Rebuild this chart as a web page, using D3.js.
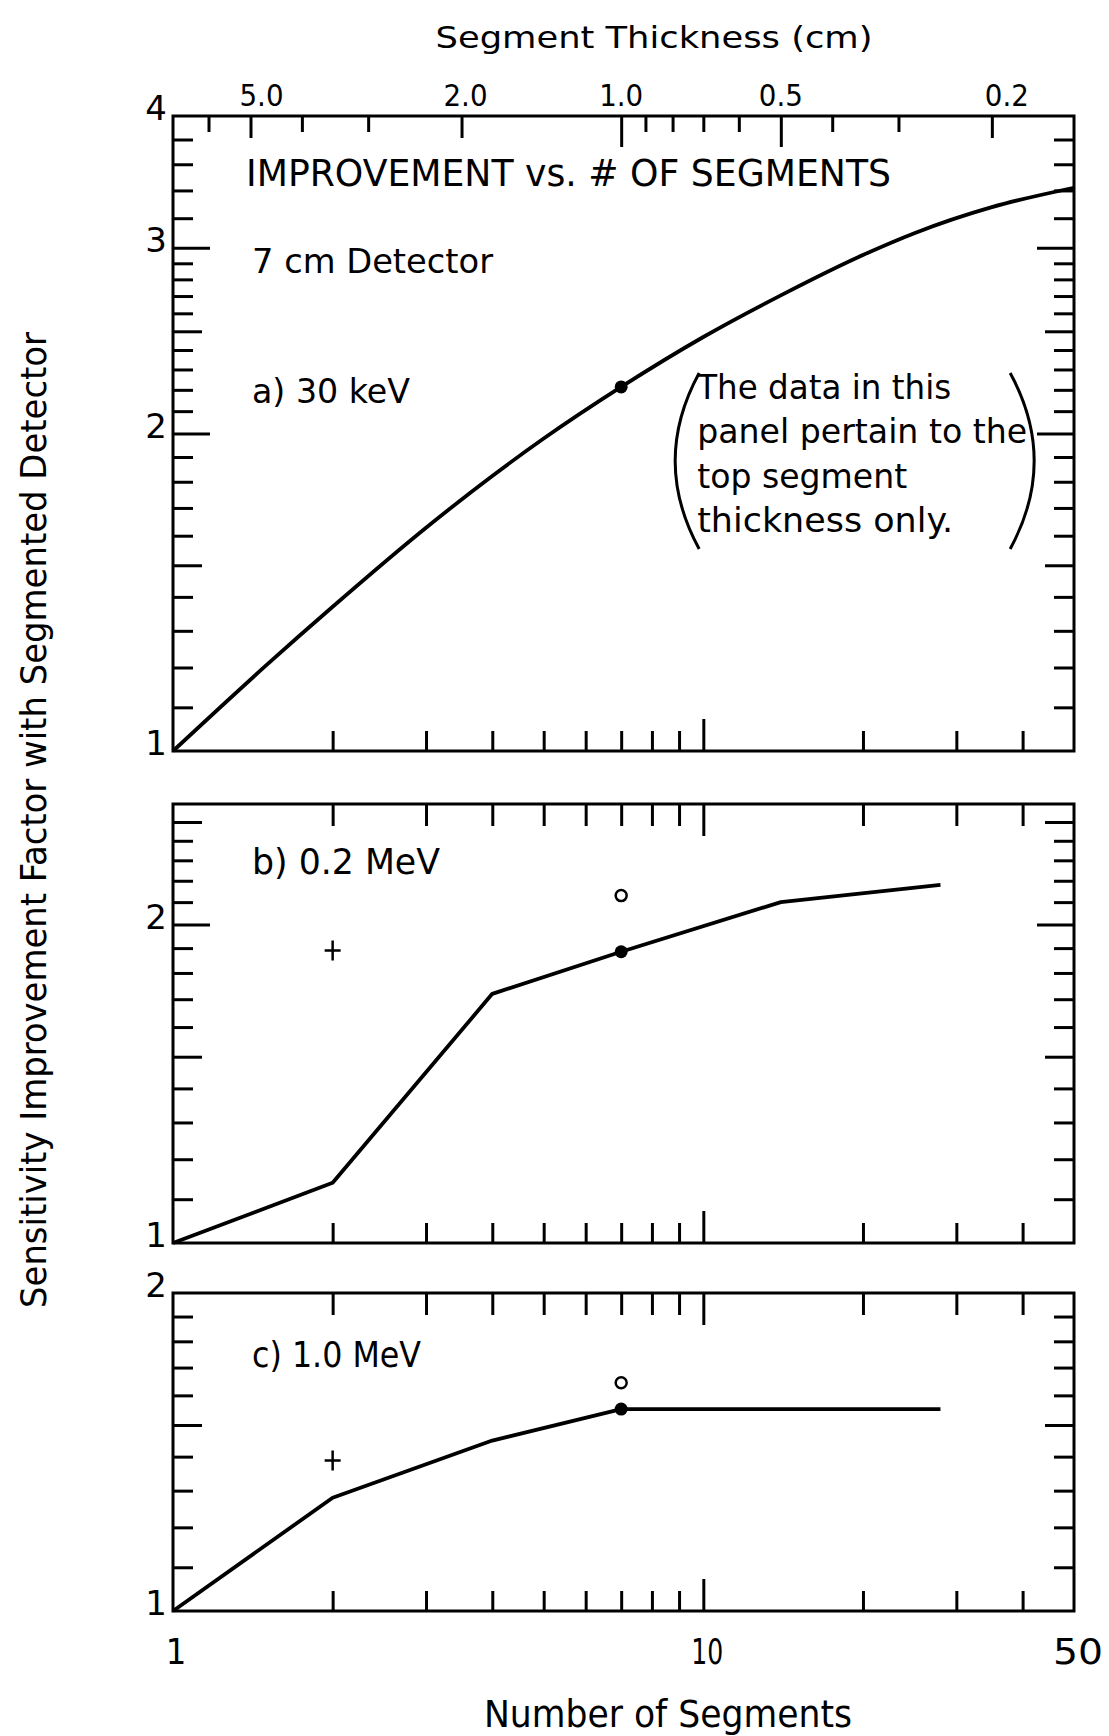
<!DOCTYPE html>
<html>
<head>
<meta charset="utf-8">
<script src="https://cdn.jsdelivr.net/npm/d3@7"></script>
<style>
  body { margin: 0; background: #fff; }
  svg { display: block; }
  .narrow { font-family: "DejaVu Sans Condensed", "Liberation Sans Narrow", "DejaVu Sans", sans-serif; font-stretch: condensed; }
  .round { font-family: "DejaVu Sans", "Liberation Sans", sans-serif; }
  .tick line { stroke: #000; stroke-width: 3; }
</style>
</head>
<body>
<svg id="chart" width="1109" height="1736"></svg>
<script>
// number of segments (bottom axis, shared)
var segDomain = [1, 50];
var segTicks = [2, 3, 4, 5, 6, 7, 8, 9, 20, 30, 40];
var segMajor = [10];
var segLabels = [1, 10, 50];

// segment thickness of a 7 cm detector (top axis of panel a)
var detectorCm = 7;
var thickMinor = [6.0, 4.0, 3.0, 0.9, 0.8, 0.7, 0.6, 0.4, 0.3];
var thickMid = [5.0, 2.0, 0.2];
var thickMajor = [1.0, 0.5];
var thickLabels = [5.0, 2.0, 1.0, 0.5, 0.2];

// a) 30 keV
var segA = [1, 1.5, 2, 3, 4, 5, 7, 10, 14, 20, 25, 35, 50];
var impA = [1.0, 1.206, 1.37, 1.628, 1.823, 1.978, 2.214, 2.469, 2.704, 2.953, 3.097, 3.278, 3.42];
// b) 0.2 MeV
var segB = [1, 2, 4, 7, 14, 28];
var impB = [1.0, 1.14, 1.72, 1.885, 2.10, 2.18];
// c) 1.0 MeV
var segC = [1, 2, 4, 7, 28];
var impC = [1.0, 1.28, 1.45, 1.553, 1.553];

// single points: filled dot at 7 segments, open circle at 7, cross at 2
var dotN = 7, circleN = 7, plusN = 2;
var dotVals = [2.214, 1.885, 1.553];
var circleVals = [null, 2.13, 1.645];
var plusVals = [null, 1.89, 1.388];

// y axis ticks per panel
var yDomA = [1, 4], yMinorA = [1.1, 1.2, 1.3, 1.4, 1.6, 1.7, 1.8, 1.9, 2.1, 2.2, 2.3, 2.4, 2.6, 2.7, 2.8, 2.9, 3.2, 3.4, 3.6, 3.8], yMidA = [1.5, 2.5], yMajA = [2, 3], yLabA = [1, 2, 3, 4];
var yDomB = [1, 2.6], yMinorB = [1.1, 1.2, 1.3, 1.4, 1.6, 1.7, 1.8, 1.9, 2.1, 2.2, 2.3, 2.4], yMidB = [1.5, 2.5], yMajB = [2], yLabB = [1, 2];
var yDomC = [1, 2], yMinorC = [1.1, 1.2, 1.3, 1.4, 1.6, 1.7, 1.8, 1.9], yMidC = [1.5], yMajC = [], yLabC = [1, 2];

var svg = d3.select("#chart");
var x0 = 173, x1 = 1074;
var x = d3.scaleLog().domain(segDomain).range([x0, x1]);

function label(px, py, str, cls, size, len, anchor) {
  var t = svg.append("text")
    .attr("class", cls)
    .attr("x", px)
    .attr("y", py)
    .attr("font-size", size)
    .attr("text-anchor", anchor || "start")
    .text(str);
  if (len) t.attr("textLength", len).attr("lengthAdjust", "spacingAndGlyphs");
  return t;
}

function ticks(g, axis, tx, ty) {
  g.append("g")
    .attr("transform", "translate(" + tx + "," + ty + ")")
    .call(axis)
    .call(function(s) { s.select(".domain").remove(); s.selectAll("text").remove(); });
}

var panels = [
  {top: 116, bottom: 751, dom: yDomA, minor: yMinorA, mid: yMidA, maj: yMajA, labs: yLabA, seg: segA, imp: impA, smooth: true},
  {top: 804, bottom: 1243, dom: yDomB, minor: yMinorB, mid: yMidB, maj: yMajB, labs: yLabB, seg: segB, imp: impB, smooth: false},
  {top: 1293, bottom: 1611, dom: yDomC, minor: yMinorC, mid: yMidC, maj: yMajC, labs: yLabC, seg: segC, imp: impC, smooth: false}
];

// small horizontal nudges of the thickness labels, as lettered in the original
var thickNudge = [11, 4, 0, 0, 15];

panels.forEach(function(p, i) {
  var y = d3.scaleLog().domain(p.dom).range([p.bottom, p.top]);
  p.y = y;
  var g = svg.append("g");

  // y ticks, left and right, pointing inward
  [[p.minor, 20], [p.mid, 29], [p.maj, 37]].forEach(function(t) {
    if (!t[0].length) return;
    ticks(g, d3.axisRight(y).tickValues(t[0]).tickSize(t[1]), x0, 0);
    ticks(g, d3.axisLeft(y).tickValues(t[0]).tickSize(t[1]), x1, 0);
  });

  // bottom ticks pointing up
  ticks(g, d3.axisTop(x).tickValues(segTicks).tickSize(20), 0, p.bottom);
  ticks(g, d3.axisTop(x).tickValues(segMajor).tickSize(32), 0, p.bottom);

  // top ticks
  if (i === 0) {
    var th = d3.scaleLog().domain([detectorCm / segDomain[0], detectorCm / segDomain[1]]).range([x0, x1]);
    ticks(g, d3.axisBottom(th).tickValues(thickMinor).tickSize(16), 0, p.top);
    ticks(g, d3.axisBottom(th).tickValues(thickMid).tickSize(22), 0, p.top);
    ticks(g, d3.axisBottom(th).tickValues(thickMajor).tickSize(31), 0, p.top);
    thickLabels.forEach(function(t, k) {
      label(th(t) + thickNudge[k], 106, d3.format(".1f")(t), "narrow", 30, 44, "middle");
    });
  } else {
    ticks(g, d3.axisBottom(x).tickValues(segTicks).tickSize(22), 0, p.top);
    ticks(g, d3.axisBottom(x).tickValues(segMajor).tickSize(32), 0, p.top);
  }

  // frame
  g.append("rect")
    .attr("x", x0).attr("y", p.top)
    .attr("width", x1 - x0).attr("height", p.bottom - p.top)
    .attr("fill", "none").attr("stroke", "#000").attr("stroke-width", 3);

  // y tick labels
  p.labs.forEach(function(v) {
    label(167, y(v) + 4, String(v), "round", 34, null, "end");
  });

  // curve
  var line = d3.line()
    .x(function(d) { return x(d[0]); })
    .y(function(d) { return y(d[1]); })
    .curve(p.smooth ? d3.curveMonotoneX : d3.curveLinear);
  g.append("path")
    .datum(d3.zip(p.seg, p.imp))
    .attr("d", line)
    .attr("fill", "none")
    .attr("stroke", "#000")
    .attr("stroke-width", 3.8)
    .attr("stroke-linejoin", "round");

  // markers
  g.append("circle")
    .attr("cx", x(dotN)).attr("cy", y(dotVals[i])).attr("r", 6.5)
    .attr("fill", "#000");
  if (circleVals[i] != null) {
    g.append("circle")
      .attr("cx", x(circleN)).attr("cy", y(circleVals[i])).attr("r", 5.5)
      .attr("fill", "#fff").attr("stroke", "#000").attr("stroke-width", 2.5);
  }
  if (plusVals[i] != null) {
    var px = x(plusN), py = y(plusVals[i]);
    g.append("path")
      .attr("d", "M" + (px - 8) + "," + py + "H" + (px + 8) + "M" + px + "," + (py - 10) + "V" + (py + 10))
      .attr("stroke", "#000").attr("stroke-width", 2.5);
  }
});

// x tick labels
segLabels.forEach(function(n) {
  var w = n === 1 ? null : (n === 10 ? 32 : 50);
  label(x(n) + (n === 1 ? 3 : 4), 1664, String(n), "narrow", 36, w, "middle");
});

// titles and axis labels
label(654, 48, "Segment  Thickness  (cm)", "narrow", 31, 437, "middle");
label(668, 1727, "Number  of  Segments", "narrow", 37, 368, "middle");
label(0, 0, "Sensitivity  Improvement  Factor  with  Segmented  Detector", "narrow", 35, 976, "middle")
  .attr("transform", "translate(46,820) rotate(-90)");

// panel texts
label(246, 186, "IMPROVEMENT  vs.  #  OF  SEGMENTS", "narrow", 37, 645);
label(252, 273, "7 cm Detector", "round", 34, 241);
label(252, 403, "a)  30  keV", "round", 34, 158);
label(252, 874, "b)  0.2  MeV", "narrow", 36, 188);
label(252, 1367, "c)  1.0  MeV", "narrow", 36, 169);

// note in panel a, inside parentheses
var noteLines = ["The data in this", "panel pertain to the", "top segment", "thickness only."];
var noteWidths = [254, 330, 210, 256];
var yA = panels[0].y;
var nx = x(7) + 76, ny = yA(2.214) + 12;
noteLines.forEach(function(s, k) {
  label(nx, ny + k * 44.5, s, "round", 33, noteWidths[k]);
});
var parenTop = ny - 26, parenBot = ny + 150;
var lp = d3.path();
lp.moveTo(nx + 2, parenTop);
lp.quadraticCurveTo(nx - 46, (parenTop + parenBot) / 2, nx + 2, parenBot);
var rp = d3.path();
rp.moveTo(nx + 313, parenTop);
rp.quadraticCurveTo(nx + 361, (parenTop + parenBot) / 2, nx + 313, parenBot);
svg.append("path").attr("d", lp.toString()).attr("fill", "none").attr("stroke", "#000").attr("stroke-width", 3);
svg.append("path").attr("d", rp.toString()).attr("fill", "none").attr("stroke", "#000").attr("stroke-width", 3);
</script>
</body>
</html>
